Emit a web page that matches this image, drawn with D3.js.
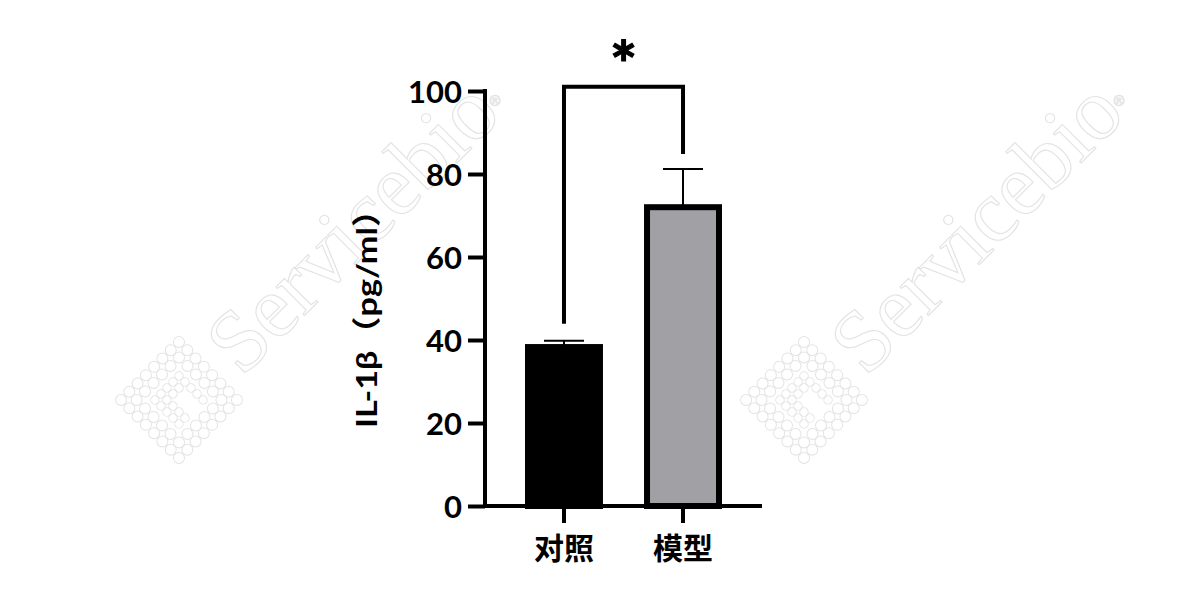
<!DOCTYPE html>
<html><head><meta charset="utf-8">
<script src="https://cdn.jsdelivr.net/npm/d3@7"></script>
<style>html,body{margin:0;padding:0;background:#fff;}svg{display:block;}</style>
</head><body>
<svg id="c" width="1200" height="600"></svg>
<script>
const categories = ["对照", "模型"];
const means = [38.3, 72.0];
const errors = [1.5, 9.2];
const fills = ["#000000", "#a1a1a5"];
const yTicks = [0, 20, 40, 60, 80, 100];
const yLabel = "IL-1β（pg/ml）";
const sigLabel = "*";
const sigPair = ["对照", "模型"];
const bracketValue = 101;

const svg = d3.select("#c");
const latin = "Lato, 'Noto Sans CJK SC', 'Noto Sans', sans-serif";
const cjk = "'Noto Sans CJK SC', 'Noto Sans', sans-serif";
const wm = "#e3e3e3";

// watermarks
function watermark(cx, cy, tx, ty) {
  const g = svg.append("g");
  const lg = g.append("g").attr("transform", `translate(${cx},${cy}) rotate(45)`);
  const r = 5.5;
  [41, 30].forEach(s => {
    const n = Math.round(s / r);
    for (let i = 0; i < n; i++) {
      const t = -s + i * (2 * s / n);
      [[t, -s], [s, t], [-t, s], [-s, -t]].forEach(([a, b]) => {
        lg.append("circle").attr("cx", a).attr("cy", b).attr("r", r)
          .attr("fill", "none").attr("stroke", wm).attr("stroke-width", 1);
      });
    }
  });
  const inner = [];
  for (let i = -2; i <= 2; i++) for (let j = -2; j <= 2; j++) {
    if (i === 2 && j < 1 && j > -2) continue;
    if ((i === 0 || i === 1) && (j === 0 || j === -1)) continue;
    inner.push([i * 8.5, j * 8.5]);
  }
  inner.forEach(([a, b]) => lg.append("circle").attr("cx", a).attr("cy", b).attr("r", 4.2)
    .attr("fill", "none").attr("stroke", wm).attr("stroke-width", 1));
  g.append("text").attr("transform", `translate(${tx},${ty}) rotate(-45)`)
    .attr("font-family", "'Liberation Serif', 'DejaVu Serif', serif")
    .attr("font-size", 88).attr("fill", "none").attr("stroke", wm).attr("stroke-width", 1.1)
    .attr("textLength", 370).text("Servicebio");
  g.append("text").attr("x", tx + 246).attr("y", ty - 272)
    .attr("font-family", "'DejaVu Sans', sans-serif").attr("font-size", 14)
    .attr("fill", "none").attr("stroke", wm).attr("stroke-width", 0.8).text("®");
}
watermark(179, 400, 242, 378);
watermark(804, 400, 866, 378);

const y = d3.scaleLinear().domain([0, 100]).range([506, 91]);
const x = d3.scaleBand().domain(categories).range([525, 722]).paddingInner(0.345).paddingOuter(0);
const axisX = 485;
const sw = 6;

// bars
categories.forEach((c, i) => {
  svg.append("rect")
    .attr("x", x(c) + sw / 2).attr("width", x.bandwidth() - sw)
    .attr("y", y(means[i])).attr("height", y(0) - y(means[i]))
    .attr("fill", fills[i]).attr("stroke", "#000").attr("stroke-width", sw);
  const cx = x(c) + x.bandwidth() / 2;
  const top = y(means[i] + errors[i]);
  svg.append("line").attr("x1", cx).attr("x2", cx).attr("y1", y(means[i])).attr("y2", top)
    .attr("stroke", "#000").attr("stroke-width", 2);
  svg.append("line").attr("x1", cx - 20).attr("x2", cx + 20).attr("y1", top).attr("y2", top)
    .attr("stroke", "#000").attr("stroke-width", 2);
});

// y axis
const ya = svg.append("g").attr("transform", `translate(${axisX},0)`)
  .call(d3.axisLeft(y).tickValues(yTicks).tickSize(17).tickSizeOuter(0).tickPadding(6));
ya.select(".domain").remove();
ya.selectAll(".tick line").attr("stroke", "#000").attr("stroke-width", 4);
ya.selectAll(".tick text").attr("font-family", latin).attr("font-weight", 700)
  .attr("font-size", 31).attr("fill", "#000").attr("dy", "0.36em");
svg.append("line").attr("x1", axisX).attr("x2", axisX).attr("y1", y(100) - 2).attr("y2", y(0) + 2)
  .attr("stroke", "#000").attr("stroke-width", 4);

// x axis
svg.append("line").attr("x1", axisX - 2).attr("x2", 762).attr("y1", y(0)).attr("y2", y(0))
  .attr("stroke", "#000").attr("stroke-width", 4);
const xa = svg.append("g").attr("transform", `translate(0,${y(0)})`)
  .call(d3.axisBottom(x).tickSize(17).tickSizeOuter(0).tickPadding(10));
xa.select(".domain").remove();
xa.selectAll(".tick line").attr("stroke", "#000").attr("stroke-width", 4);
xa.selectAll(".tick text").attr("font-family", cjk).attr("font-weight", 700)
  .attr("font-size", 30).attr("fill", "#000").attr("dy", "0.85em");

// y label
svg.append("text").attr("transform", `translate(377,310.5) rotate(-90)`)
  .attr("text-anchor", "middle").attr("font-family", latin).attr("font-weight", 700)
  .attr("font-size", 29).attr("fill", "#000")
  .attr("textLength", 235).attr("lengthAdjust", "spacingAndGlyphs")
  .text(yLabel);

// significance bracket
const i0 = categories.indexOf(sigPair[0]), i1 = categories.indexOf(sigPair[1]);
const cx0 = x(sigPair[0]) + x.bandwidth() / 2, cx1 = x(sigPair[1]) + x.bandwidth() / 2;
const by = y(bracketValue);
const l0 = y(means[i0] + errors[i0]) - 17, l1 = y(means[i1] + errors[i1]) - 15;
svg.append("path").attr("d", `M${cx0},${l0}V${by}H${cx1}V${l1}`)
  .attr("fill", "none").attr("stroke", "#000").attr("stroke-width", 4);
svg.append("text").attr("x", (cx0 + cx1) / 2).attr("y", 88).attr("text-anchor", "middle")
  .attr("font-family", latin).attr("font-weight", 700).attr("font-size", 64).attr("fill", "#000")
  .attr("stroke", "#000").attr("stroke-width", 1.2)
  .text(sigLabel);
</script>
</body></html>
